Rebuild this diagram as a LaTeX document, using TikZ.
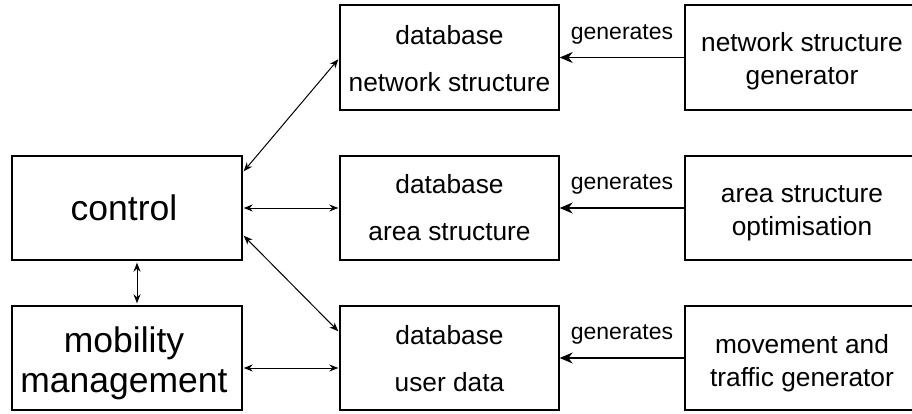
\documentclass[tikz,border=0pt]{standalone}
\usepackage{fontspec}
\setmainfont{Liberation Sans}
\usetikzlibrary{arrows.meta,calc}
\begin{document}
\begin{tikzpicture}[x=1pt,y=-1pt,
  box/.style={draw=black,line width=1.4pt,inner sep=0pt},
  bigbox/.style={box,minimum width=230pt,minimum height=104pt},
  dbbox/.style={box,minimum width=219pt,minimum height=104pt},
  genbox/.style={box,minimum width=234pt,minimum height=104pt},
  bigtext/.style={inner sep=0pt,align=center,font=\fontsize{35.5}{40}\selectfont},
  dbtext/.style={inner sep=0pt,align=center,font=\fontsize{26.3}{47}\selectfont},
  gentext/.style={inner sep=0pt,align=center,font=\fontsize{26.3}{33}\selectfont},
  link/.style={line width=1pt,{Stealth[length=9pt,width=7pt]}-{Stealth[length=9pt,width=7pt]}},
  feed/.style={line width=1.2pt,-{Stealth[length=13pt,width=11pt]}},
  tag/.style={font=\fontsize{23}{26}\selectfont,inner sep=0pt}]
\useasboundingbox (0,0) rectangle (912,414);

% left column
\node[bigbox] (ctrl) at (127,208) {};
\node[bigbox] (mob) at (127,358) {};
\node[bigtext] (ctrlt) at ($(ctrl.center)+(-3,0)$) {control};
\node[bigtext] (mobt) at ($(mob.center)+(-3,5)$) {mobility\\management};

% databases
\node[dbbox,minimum height=105pt] (db1) at (449.5,57.5) {};
\node[dbbox] (db2) at (449.5,208) {};
\node[dbbox] (db3) at (449.5,358) {};
\node[dbtext] (db1t) at ($(db1.center)+(0,1)$) {database\\network structure};
\node[dbtext] (db2t) at ($(db2.center)+(0,0)$) {database\\area structure};
\node[dbtext] (db3t) at ($(db3.center)+(0,1)$) {database\\user data};

% generators (running off the right edge)
\node[genbox,minimum height=105pt] (g1) at (802,57.5) {};
\node[genbox] (g2) at (802,208) {};
\node[genbox] (g3) at (802,358) {};
\node[gentext] (g1t) at ($(g1.center)+(0,4)$) {network structure\\generator};
\node[gentext] (g2t) at ($(g2.center)+(0,5)$) {area structure\\optimisation};
\node[gentext] (g3t) at ($(g3.center)+(0,5)$) {movement and\\traffic generator};

% generator feeds
\draw[feed] (g1.west) -- (db1.east);
\draw[feed] (g2.west) -- (db2.east);
\draw[feed] (g3.west) -- (db3.east);
\node[tag] (t1) at (622,34) {generates};
\node[tag] (t2) at (622,184) {generates};
\node[tag] (t3) at (622,334) {generates};

% control links
\draw[link] ($(ctrl.north east)+(1,16)$) -- ($(db1.north west)+(-1,55)$);
\draw[link] ($(ctrl.east)+(1,0)$) -- ($(db2.west)+(-1,0)$);
\draw[link] ($(ctrl.south east)+(1,-25)$) -- ($(db3.north west)+(-1,26)$);
\draw[link] ($(ctrl.south)+(10,2)$) -- ($(mob.north)+(10,-2)$);
\draw[link] ($(mob.east)+(1,10)$) -- ($(db3.west)+(-1,10)$);
\end{tikzpicture}
\end{document}
